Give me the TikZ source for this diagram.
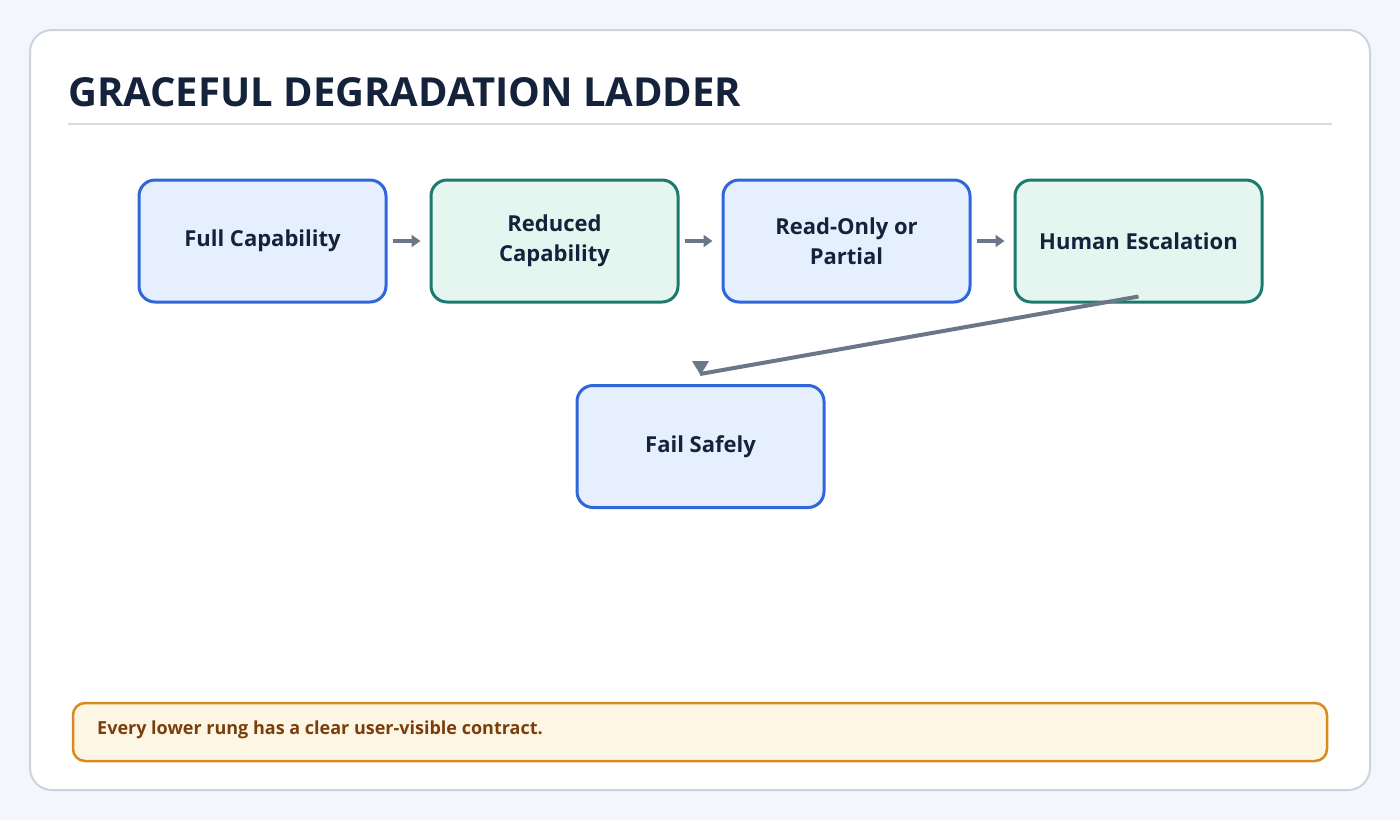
\documentclass[tikz,border=0pt]{standalone}
\usepackage{fontspec}
\setmainfont{Open Sans}
\usetikzlibrary{arrows.meta}
\definecolor{bg}{HTML}{F3F6FA}
\definecolor{cardline}{HTML}{CBD5E1}
\definecolor{ink}{HTML}{15223B}
\definecolor{bstroke}{HTML}{2F66D9}
\definecolor{bfill}{HTML}{E6EFFD}
\definecolor{gstroke}{HTML}{1D7A6E}
\definecolor{gfill}{HTML}{E5F6F0}
\definecolor{arr}{HTML}{6B7689}
\definecolor{nfill}{HTML}{FEF6E4}
\definecolor{nline}{HTML}{D98A1E}
\definecolor{ntext}{HTML}{7A3E0C}
\begin{document}
\begin{tikzpicture}[x=1pt,y=-1pt,
  box/.style={rounded corners=16pt,line width=3pt,minimum width=247pt,minimum height=122pt,align=center,text=ink,font=\fontsize{22}{30}\selectfont\bfseries,inner sep=0pt},
  blue/.style={box,draw=bstroke,fill=bfill},
  green/.style={box,draw=gstroke,fill=gfill},
  link/.style={draw=arr,line width=4pt,-{Triangle[length=9pt,width=12pt]}}]
\fill[bg] (0,0) rectangle (1400,820);
\filldraw[fill=white,draw=cardline,line width=2pt,rounded corners=22pt] (30,30) rectangle (1370,790);
\node[anchor=base west,text=ink,font=\fontsize{40}{48}\selectfont\bfseries,inner sep=0pt] (title) at (68,106) {GRACEFUL DEGRADATION LADDER};
\draw[draw=cardline!80,line width=2pt] (68,124) -- (1332,124);
\node[blue] (a) at (262.5,241) {Full Capability};
\node[green] (b) at (554.5,241) {Reduced\\Capability};
\node[blue] (c) at (846.5,241) {Read-Only or\\Partial};
\node[green] (d) at (1138.5,241) {Human Escalation};
\node[blue] (e) at (700.5,446.5) {Fail Safely};
\draw[link] ([xshift=5pt]a.east) -- ([xshift=-9pt]b.west);
\draw[link] ([xshift=5pt]b.east) -- ([xshift=-9pt]c.west);
\draw[link] ([xshift=5pt]c.east) -- ([xshift=-9pt]d.west);
\coordinate (dn) at (700,374);
\draw[draw=arr,line width=4pt] ([yshift=7pt]d.south) -- (dn);
\fill[arr] (692,361) -- (709,361) -- (700.5,375) -- cycle;
\filldraw[fill=nfill,draw=nline,line width=2.5pt,rounded corners=12pt] (73,703) rectangle (1327,761);
\node[anchor=west,text=ntext,font=\fontsize{18}{22}\selectfont\bfseries,inner sep=0pt] (note) at (97,730) {Every lower rung has a clear user-visible contract.};
\end{tikzpicture}
\end{document}
